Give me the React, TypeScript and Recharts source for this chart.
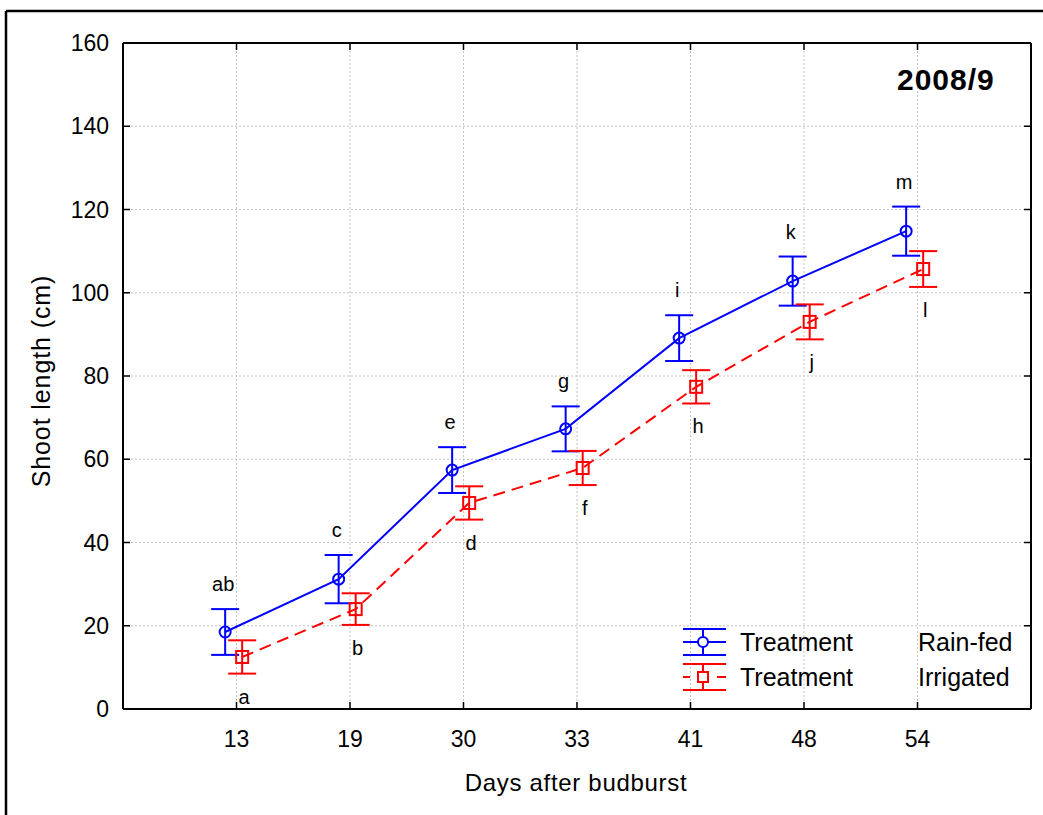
import React from 'react';
import { ComposedChart, Line, Scatter, ErrorBar, XAxis, YAxis, CartesianGrid, Legend } from 'recharts';

const DAYS = ['13', '19', '30', '33', '41', '48', '54'];
const FACTOR = 'Treatment';
const LEVELS = ['Rain-fed', 'Irrigated'];

const RAINFED = [18.5, 31.2, 57.4, 67.3, 89.1, 102.8, 114.8];
const RAINFED_ERR = [5.5, 5.8, 5.5, 5.4, 5.5, 5.9, 5.9];
const RAINFED_LETTERS = ['ab', 'c', 'e', 'g', 'i', 'k', 'm'];

const IRRIGATED = [12.5, 24.0, 49.5, 57.9, 77.4, 93.0, 105.7];
const IRRIGATED_ERR = [4.0, 3.8, 4.0, 4.1, 4.0, 4.2, 4.3];
const IRRIGATED_LETTERS = ['a', 'b', 'd', 'f', 'h', 'j', 'l'];

const Y_TICKS = [0, 20, 40, 60, 80, 100, 120, 140, 160];
const X_TICKS = DAYS.map((_, i) => i + 1);

const BLUE = '#0000ff';
const RED = '#ff0000';
const FONT = '"Liberation Sans", Arial, sans-serif';
const TICK_LEN = 7;

// small horizontal dodge so the two treatments don't overlap
const DODGE_RAIN = -0.1;
const DODGE_IRR = 0.05;

const rainData = DAYS.map((_, i) => ({
  x: i + 1 + DODGE_RAIN,
  y: RAINFED[i],
  err: RAINFED_ERR[i],
  mark: RAINFED[i] + RAINFED_ERR[i],
  letter: RAINFED_LETTERS[i],
}));

const irrData = DAYS.map((_, i) => ({
  x: i + 1 + DODGE_IRR,
  y: IRRIGATED[i],
  err: IRRIGATED_ERR[i],
  mark: IRRIGATED[i] - IRRIGATED_ERR[i],
  letter: IRRIGATED_LETTERS[i],
}));

const BottomTick = (props: any) => {
  const { x, y, payload } = props;
  return (
    <g>
      <line x1={x} y1={y} x2={x} y2={y - TICK_LEN} stroke="#000" strokeWidth={1.5} />
      <text x={x} y={y + 38} textAnchor="middle" fontSize={23} fontFamily={FONT} fill="#000">
        {DAYS[payload.value - 1]}
      </text>
    </g>
  );
};

const TopTick = (props: any) => {
  const { x, y } = props;
  return <line x1={x} y1={y} x2={x} y2={y + TICK_LEN} stroke="#000" strokeWidth={1.5} />;
};

const LeftTick = (props: any) => {
  const { x, y, payload } = props;
  return (
    <g>
      <line x1={x} y1={y} x2={x + TICK_LEN} y2={y} stroke="#000" strokeWidth={1.5} />
      <text x={x - 14} y={y + 8} textAnchor="end" fontSize={23} fontFamily={FONT} fill="#000">
        {payload.value}
      </text>
    </g>
  );
};

const RightTick = (props: any) => {
  const { x, y } = props;
  return <line x1={x} y1={y} x2={x - TICK_LEN} y2={y} stroke="#000" strokeWidth={1.5} />;
};

const SquareDot = (props: any) => {
  const { cx, cy, index } = props;
  if (cx == null || cy == null) return <g key={index} />;
  return <rect key={index} x={cx - 6} y={cy - 6} width={12} height={12} fill="none" stroke={RED} strokeWidth={2} />;
};

const LetterAbove = (props: any) => {
  const { cx, cy, payload } = props;
  return (
    <text x={cx - 2} y={cy - 25} dy={7} textAnchor="middle" fontSize={20} fontFamily={FONT} fill="#000">
      {payload.letter}
    </text>
  );
};

const LetterBelow = (props: any) => {
  const { cx, cy, payload } = props;
  return (
    <text x={cx + 2} y={cy + 23} dy={7} textAnchor="middle" fontSize={20} fontFamily={FONT} fill="#000">
      {payload.letter}
    </text>
  );
};

const LegendBox = (props: any) => {
  const { payload } = props;
  const rows = (payload || [])
    .filter((p: any) => LEVELS.includes(p.value))
    .sort((a: any, b: any) => LEVELS.indexOf(a.value) - LEVELS.indexOf(b.value));
  return (
    <svg width={340} height={70} style={{ display: 'block', overflow: 'visible' }}>
      {rows.map((entry: any) => {
        const i = LEVELS.indexOf(entry.value);
        const cy = 16 + i * 35;
        const c = entry.color;
        const dashed = i === 1;
        return (
          <g key={entry.value}>
            <line x1={0} y1={cy - 13} x2={43} y2={cy - 13} stroke={c} strokeWidth={2} />
            <line x1={0} y1={cy + 13} x2={43} y2={cy + 13} stroke={c} strokeWidth={2} />
            <line x1={20} y1={cy - 13} x2={20} y2={cy + 13} stroke={c} strokeWidth={2} />
            {dashed ? (
              <g>
                <line x1={0} y1={cy} x2={7} y2={cy} stroke={c} strokeWidth={2} />
                <line x1={34} y1={cy} x2={43} y2={cy} stroke={c} strokeWidth={2} />
                <rect x={15} y={cy - 5} width={10} height={10} fill="#fff" stroke={c} strokeWidth={2} />
              </g>
            ) : (
              <g>
                <line x1={0} y1={cy} x2={43} y2={cy} stroke={c} strokeWidth={2} />
                <circle cx={20} cy={cy} r={5} fill="#fff" stroke={c} strokeWidth={2} />
              </g>
            )}
            <text x={57} y={cy + 9} fontSize={25} fontFamily={FONT} fill="#000">{FACTOR}</text>
            <text x={235} y={cy + 9} fontSize={25} fontFamily={FONT} fill="#000">{entry.value}</text>
          </g>
        );
      })}
    </svg>
  );
};

export default function App() {
  return (
    <div style={{ position: 'absolute', left: 0, top: 0, width: 1043, height: 815, background: '#fff', fontFamily: FONT }}>
      <ComposedChart
        width={1043}
        height={815}
        margin={{ top: 42, right: 11, bottom: 46, left: 63 }}
      >
        <CartesianGrid
          stroke="#c4c4c4"
          strokeDasharray="2 2"
          horizontalValues={Y_TICKS}
          verticalValues={X_TICKS}
        />
        <XAxis
          type="number"
          dataKey="x"
          domain={[0, 8]}
          ticks={X_TICKS}
          height={60}
          tickSize={0}
          tickMargin={0}
          tickLine={false}
          axisLine={{ stroke: '#000', strokeWidth: 2 }}
          tick={<BottomTick />}
          allowDataOverflow
        />
        <XAxis
          xAxisId="top"
          orientation="top"
          type="number"
          dataKey="x"
          domain={[0, 8]}
          ticks={X_TICKS}
          height={1}
          tickSize={0}
          tickMargin={0}
          tickLine={false}
          axisLine={{ stroke: '#000', strokeWidth: 2 }}
          tick={<TopTick />}
          allowDataOverflow
        />
        <YAxis
          type="number"
          domain={[0, 160]}
          ticks={Y_TICKS}
          width={60}
          tickSize={0}
          tickMargin={0}
          tickLine={false}
          axisLine={{ stroke: '#000', strokeWidth: 2 }}
          tick={<LeftTick />}
          allowDataOverflow
        />
        <YAxis
          yAxisId="right"
          orientation="right"
          type="number"
          domain={[0, 160]}
          ticks={Y_TICKS}
          width={1}
          tickSize={0}
          tickMargin={0}
          tickLine={false}
          axisLine={{ stroke: '#000', strokeWidth: 2 }}
          tick={<RightTick />}
          allowDataOverflow
        />
        <Legend
          layout="horizontal"
          verticalAlign="middle"
          align="center"
          content={<LegendBox />}
          wrapperStyle={{ position: 'absolute', left: 683, top: 626, width: 340, height: 70 }}
        />
        <Line
          data={rainData}
          dataKey="y"
          name={LEVELS[0]}
          stroke={BLUE}
          strokeWidth={2}
          dot={{ r: 5.5, stroke: BLUE, strokeWidth: 2, fill: 'none' }}
          activeDot={false}
          isAnimationActive={false}
        >
          <ErrorBar dataKey="err" direction="y" width={14} stroke={BLUE} strokeWidth={2} />
        </Line>
        <Line
          data={irrData}
          dataKey="y"
          name={LEVELS[1]}
          stroke={RED}
          strokeWidth={2}
          strokeDasharray="12 7"
          dot={<SquareDot />}
          activeDot={false}
          isAnimationActive={false}
        >
          <ErrorBar dataKey="err" direction="y" width={14} stroke={RED} strokeWidth={2} />
        </Line>
        <Scatter data={rainData} dataKey="mark" shape={<LetterAbove />} legendType="none" isAnimationActive={false} />
        <Scatter data={irrData} dataKey="mark" shape={<LetterBelow />} legendType="none" isAnimationActive={false} />
      </ComposedChart>
      <svg
        width={1043}
        height={815}
        style={{ position: 'absolute', left: 0, top: 0, pointerEvents: 'none' }}
      >
        <line x1={6} y1={11} x2={1043} y2={11} stroke="#000" strokeWidth={2.5} />
        <line x1={6} y1={11} x2={6} y2={815} stroke="#000" strokeWidth={2.5} />
        <text x={897} y={90} fontSize={30} fontWeight="bold" letterSpacing={1} fontFamily={FONT} fill="#000">
          2008/9
        </text>
        <text
          transform="translate(50,381) rotate(-90)"
          textAnchor="middle"
          fontSize={25}
          letterSpacing={0.9}
          fontFamily={FONT}
          fill="#000"
        >
          Shoot length (cm)
        </text>
        <text x={576} y={791} textAnchor="middle" fontSize={24} letterSpacing={0.7} fontFamily={FONT} fill="#000">
          Days after budburst
        </text>
      </svg>
    </div>
  );
}
